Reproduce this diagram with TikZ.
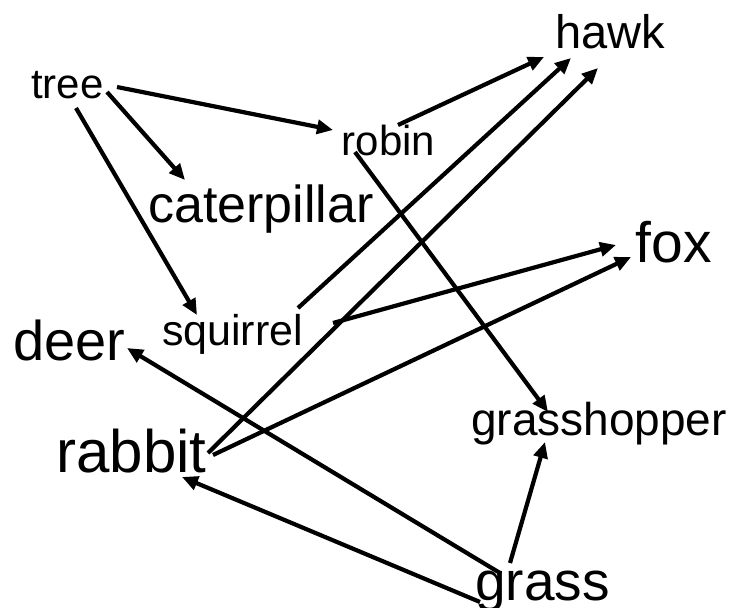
\documentclass[tikz,border=0pt]{standalone}
\usepackage{fontspec}
\setmainfont{Liberation Sans}
\usetikzlibrary{arrows.meta}

\newcommand{\fsz}[1]{\fontsize{#1}{#1}\selectfont}

\begin{document}
\begin{tikzpicture}[x=1pt, y=-1pt,
  >={Triangle[length=16pt,width=14pt]},
  every node/.style={inner sep=0pt, anchor=base},
  link/.style={->, line width=4.2pt}]

\useasboundingbox (0,0) rectangle (734,608);

\node[font=\fsz{42}] (tree) at (67.5,98) {tree};
\node[font=\fsz{47}] (hawk) at (610,48) {hawk};
\node[font=\fsz{42}] (robin) at (388.5,155) {robin};
\node[font=\fsz{52}] (cat) at (261,222) {caterpillar};
\node[font=\fsz{57}] (fox) at (674,262) {fox};

\node[font=\fsz{56}] (deer) at (69.5,360) {deer};
\node[font=\fsz{43}] (squirrel) at (232.5,345) {squirrel};
\node[font=\fsz{46}] (hopper) at (599,435) {grasshopper};
\node[font=\fsz{60}] (rabbit) at (131.5,472) {rabbit};
\node[font=\fsz{55}] (grass) at (542.5,600) {grass};

\draw[link] ([shift={(49.5,-11)}]tree.base) -- ([shift={(-55.5,-25)}]robin.base);
\draw[link] ([shift={(39.5,-6)}]tree.base) -- ([shift={(-76,-42)}]cat.base);
\draw[link] ([shift={(8.5,10)}]tree.base) -- ([shift={(-35.5,-30)}]squirrel.base);

\draw[link] ([shift={(9.5,-30)}]robin.base) -- ([shift={(-66,9)}]hawk.base);
\draw[link] ([shift={(-33.5,-3)}]robin.base) -- ([shift={(-51,-23)}]hopper.base);

\draw[link] ([shift={(65.5,-37)}]squirrel.base) -- ([shift={(-39,10)}]hawk.base);
\draw[link] ([shift={(100.5,-22)}]squirrel.base) -- ([shift={(-58,-17)}]fox.base);

\draw[link] ([shift={(76.5,-19)}]rabbit.base) -- ([shift={(-12,20)}]hawk.base);
\draw[link] ([shift={(81.5,-17)}]rabbit.base) -- ([shift={(-43,-5)}]fox.base);

\draw[link] ([shift={(-42.5,-27)}]grass.base) -- ([shift={(57.5,-12)}]deer.base);
\draw[link] ([shift={(-62.5,2)}]grass.base) -- ([shift={(50.5,5)}]rabbit.base);
\draw[link] ([shift={(-32.5,-37)}]grass.base) -- ([shift={(-54,7)}]hopper.base);

\end{tikzpicture}
\end{document}
